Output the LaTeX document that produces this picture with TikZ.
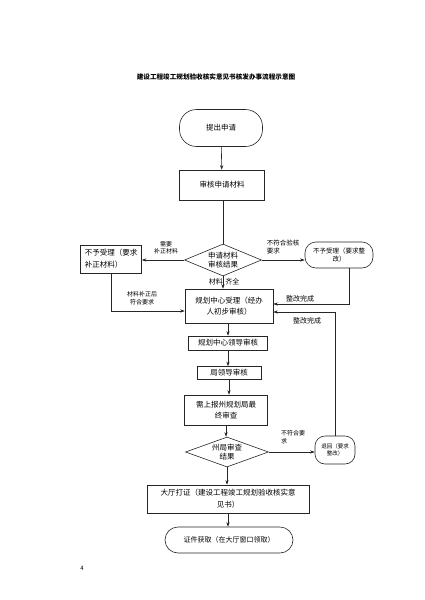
\documentclass[tikz,border=0pt]{standalone}
\usepackage{fontspec}
\setmainfont{Noto Sans CJK SC}
\usetikzlibrary{shapes.geometric,arrows.meta}
\newcommand\fsz[2]{\fontsize{#1}{#2}\selectfont}
\tikzset{
  ln/.style={line width=0.6pt, draw=black!85},
  arr/.style={ln, -{Stealth[length=4.5pt,width=3.2pt]}},
  box/.style={ln, rectangle, inner sep=1pt, align=center, font=\fsz{7.5}{11}},
  pill/.style={box, rounded corners=#1},
  dia/.style={ln, diamond, inner sep=0pt},
  dtext/.style={align=center, inner sep=0pt, font=\fsz{7.5}{8.5}},
  lab/.style={inner sep=0pt, align=left, font=\fsz{6}{7.5}}
}
\begin{document}
\begin{tikzpicture}[x=1pt,y=-1pt]
\useasboundingbox (0,0) rectangle (425,600);
% title
\node[inner sep=0pt, font=\fsz{6.6}{8}\bfseries] (title) at (216,77) {建设工程竣工规划验收核实意见书核发办事流程示意图};
% nodes
\node[pill=17pt, minimum width=83pt, minimum height=37pt] (s1) at (221,128) {提出申请};
\node[box, minimum width=85pt, minimum height=30pt] (n2) at (222,185) {审核申请材料};
\node[dia, minimum width=77pt, minimum height=32pt] (d1) at (223,260) {};
\node[dtext] (d1t) at (d1) {申请材料\\审核结果};
\node[box, align=left, minimum width=61pt, minimum height=28pt, font=\fsz{7.5}{12}] (L1) at (111,259) {不予受理（要求\\补正材料）};
\node[pill=11pt, minimum width=68pt, minimum height=26pt, font=\fsz{6.5}{8}] (R1) at (339,255) {不予受理（要求整\\改）};
\node[box, minimum width=88pt, minimum height=34pt] (B1) at (229,306) {规划中心受理（经办\\人初步审核）};
\node[box, minimum width=79pt, minimum height=14pt] (B2) at (228,343) {规划中心领导审核};
\node[box, minimum width=64pt, minimum height=13pt] (B3) at (229,373) {局领导审核};
\node[box, minimum width=83pt, minimum height=30pt] (B4) at (226,410) {需上报州规划局最\\终审查};
\node[dia, minimum width=83pt, minimum height=30pt] (d2) at (227,452) {};
\node[dtext] (d2t) at (d2) {州局审查\\结果};
\node[pill=10pt, minimum width=40pt, minimum height=28pt, font=\fsz{5.5}{7.5}] (R2) at (335,450) {退回（要求\\整改）};
\node[box, minimum width=162pt, minimum height=28pt, font=\fsz{7.5}{12}] (B5) at (228,499) {大厅打证（建设工程竣工规划验收核实意\\见书）};
\node[pill=13pt, minimum width=128pt, minimum height=26pt, font=\fsz{7}{9}] (S2) at (229,540) {证件获取（在大厅窗口领取）};
% labels
\node[lab, align=center] (l1) at (166,248) {需要\\补正材料};
\node[lab, font=\fsz{6.5}{8}] (l2) at (283,247) {不符合验核\\要求};
\node[lab, font=\fsz{7}{8}] (l3) at (224,282) {材料\hspace{2.5pt}齐全};
\node[lab, align=center] (l4) at (142,298) {材料补正后\\符合要求};
\node[lab, font=\fsz{7}{8}] (l5) at (300,299) {整改完成};
\node[lab, font=\fsz{7}{8}] (l6) at (307,321) {整改完成};
\node[lab] (l7) at (293,437) {不符合要\\求};
\node[lab, font=\fsz{6}{7}] (pg) at (82,568) {4};
% connectors
\draw[arr] (s1) -- (n2);
\draw[ln] (n2.south) -- (n2.south -| d1.north) -- (d1.north);
\draw[arr] (d1.west) -- (d1.west -| L1.east);
\draw[arr] (d1.east) -- (d1.east -| R1.west);
\draw[arr] (d1.south) -- (d1.south |- B1.north);
\draw[arr] (L1.south) |- ([yshift=-5pt]B1.west);
\draw[arr] ([xshift=10pt]R1.south) |- ([yshift=2pt]B1.east);
\draw[arr] (R2.north) |- ([yshift=-6pt]B1.east);
\draw[arr] (B1.south -| B2.north) -- (B2.north);
\draw[arr] (B2) -- (B2 |- B3.north);
\draw[arr] (B3.south) -- (B3.south |- B4.north);
\draw[arr] (B4.south) -- (B4.south |- d2.north);
\draw[arr] (d2.east) -- (d2.east -| R2.west);
\draw[arr] (d2.south) -- (d2.south |- B5.north);
\draw[arr] (B5.south) -- (B5.south |- S2.north);
\end{tikzpicture}
\end{document}
